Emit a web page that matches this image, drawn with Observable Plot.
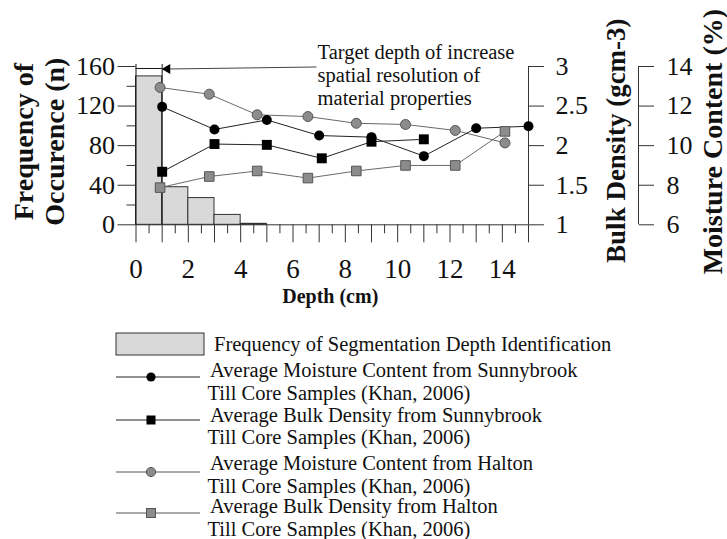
<!DOCTYPE html>
<html><head><meta charset="utf-8">
<script src="https://cdn.jsdelivr.net/npm/d3@7"></script>
<script src="https://cdn.jsdelivr.net/npm/@observablehq/plot@0.6"></script>
<style>
body{margin:0;background:#fff;font-family:"Liberation Serif","Times New Roman",serif;}
#chart svg,#legend svg{display:block}
</style></head><body><div id="chart"></div><div id="legend"></div>
<script>
// ---- data ----
const binStart = [0, 1, 2, 3, 4];
const binEnd = [1, 2, 3, 4, 5];
const frequency = [150, 38, 27, 10, 1];
const sunnyDepth = [1, 3, 5, 7, 9, 11, 13, 15];
const sunnyMoisture = [11.96, 10.82, 11.3, 10.51, 10.43, 9.47, 10.88, 10.98];
const sunnyBulkDepth = [1, 3, 5, 7.1, 9, 11];
const sunnyBulk = [1.67, 2.02, 2.01, 1.84, 2.05, 2.08];
const haltonDepth = [0.92, 2.8, 4.63, 6.57, 8.42, 10.3, 12.2, 14.1];
const haltonMoisture = [12.94, 12.6, 11.56, 11.47, 11.13, 11.07, 10.77, 10.14];
const haltonBulk = [1.47, 1.61, 1.68, 1.59, 1.68, 1.75, 1.75, 2.18];
const freqTicks = [0, 40, 80, 120, 160];
const freqMinor = [20, 60, 100, 140];
const bulkTicks = [1, 1.5, 2, 2.5, 3];
const moistTicks = [6, 8, 10, 12, 14];
const depthTicks = [0,1,2,3,4,5,6,7,8,9,10,11,12,13,14,15];
const depthMinor = [0.5,1.5,2.5,3.5,4.5,5.5,6.5,7.5,8.5,9.5,10.5,11.5,12.5,13.5,14.5];
const depthLabels = [0, 2, 4, 6, 8, 10, 12, 14];
const annotation = "Target depth of increase\nspatial resolution of\nmaterial properties";
const legendItems = [
  ["Frequency of Segmentation Depth Identification"],
  ["Average Moisture Content from Sunnybrook", "Till Core Samples (Khan, 2006)"],
  ["Average Bulk Density from Sunnybrook", "Till Core Samples (Khan, 2006)"],
  ["Average Moisture Content from Halton", "Till Core Samples (Khan, 2006)"],
  ["Average Bulk Density from Halton", "Till Core Samples (Khan, 2006)"]
];

// ---- map secondary axes into the frequency scale ----
const bulkToY = b => (b - 1) * 80;   // 1..3 -> 0..160
const moistToY = m => (m - 6) * 20;  // 6..14 -> 0..160

const bins = binStart.map((s, i) => ({x1: s, x2: binEnd[i], n: frequency[i]}));
const sunnyM = sunnyDepth.map((d, i) => ({x: d, y: moistToY(sunnyMoisture[i])}));
const sunnyB = sunnyBulkDepth.map((d, i) => ({x: d, y: bulkToY(sunnyBulk[i])}));
const haltonM = haltonDepth.map((d, i) => ({x: d, y: moistToY(haltonMoisture[i])}));
const haltonB = haltonDepth.map((d, i) => ({x: d, y: bulkToY(haltonBulk[i])}));

const bulkPos = bulkTicks.map(bulkToY);
const moistPos = moistTicks.map(moistToY);

const AX = "#333";
const GRAYFILL = "#8c8c8c", GRAYSTROKE = "#555";

const chart = Plot.plot({
  width: 727, height: 310,
  marginLeft: 135.5, marginRight: 199, marginTop: 66, marginBottom: 85.7,
  x: {domain: [0, 15]},
  y: {domain: [0, 160]},
  style: {fontFamily: "'Liberation Serif', 'Times New Roman', serif", color: "#111", background: "white", overflow: "visible"},
  marks: [
    Plot.rectY(bins, {x1: "x1", x2: "x2", y: "n", fill: "#d9d9d9", stroke: "#333", strokeWidth: 1}),
    // axis lines
    Plot.ruleY([0], {stroke: AX}),
    Plot.ruleX([15], {y1: 0, y2: 160, stroke: AX}),
    Plot.ruleX([15], {y1: 0, y2: 160, stroke: AX, dx: 110}),
    // target-depth bracket
    Plot.ruleX([0, 1], {y1: 0, y2: 162, stroke: "#111"}),
    Plot.ruleY([158], {x1: 0, x2: 1, stroke: "#111"}),
    Plot.link([{x1: 6.9, y1: 159.5, x2: 1.3, y2: 157.5}], {x1: "x1", y1: "y1", x2: "x2", y2: "y2", stroke: "#444"}),
    Plot.dot([{x: 1.2, y: 157.5}], {x: "x", y: "y", symbol: "triangle", r: 3.7, rotate: -90, fill: "#000", stroke: "none"}),
    Plot.text([annotation], {x: () => 6.94, y: () => 152, text: d => d, textAnchor: "start", lineAnchor: "middle", fontSize: 20.5, lineHeight: 1.12, fill: "#111"}),
    // series
    Plot.line(haltonM, {x: "x", y: "y", stroke: "#6a6a6a", strokeWidth: 1}),
    Plot.line(haltonB, {x: "x", y: "y", stroke: "#6a6a6a", strokeWidth: 1}),
    Plot.line(sunnyM, {x: "x", y: "y", stroke: "#222", strokeWidth: 1}),
    Plot.line(sunnyB, {x: "x", y: "y", stroke: "#222", strokeWidth: 1}),
    Plot.dot(haltonM, {x: "x", y: "y", r: 5, fill: GRAYFILL, stroke: GRAYSTROKE, strokeWidth: 1}),
    Plot.dot(haltonB, {x: "x", y: "y", r: 5.4, symbol: "square", fill: GRAYFILL, stroke: GRAYSTROKE, strokeWidth: 1}),
    Plot.dot(sunnyM, {x: "x", y: "y", r: 5, fill: "#000", stroke: "none"}),
    Plot.dot(sunnyB, {x: "x", y: "y", r: 5.6, symbol: "square", fill: "#000", stroke: "none"}),
    // axes
    Plot.axisY(freqTicks, {anchor: "left", tickSize: 18, tickPadding: 3, fontSize: 26, stroke: AX, label: null}),
    Plot.axisY(freqMinor, {anchor: "left", tickSize: 9, fill: "none", stroke: AX, label: null}),
    Plot.axisY(bulkPos, {anchor: "right", tickSize: 15, tickPadding: 12, fontSize: 26, stroke: AX, label: null,
      tickFormat: d => String(bulkTicks[bulkPos.indexOf(d)])}),
    Plot.axisY(moistPos, {anchor: "right", tickSize: 15, tickPadding: 13, fontSize: 26, stroke: AX, label: null, dx: 110,
      tickFormat: d => String(moistTicks[moistPos.indexOf(d)])}),
    Plot.axisX(depthTicks, {tickSize: 18, tickPadding: 16, fontSize: 27, stroke: AX, label: null,
      tickFormat: d => depthLabels.includes(d) ? String(d) : ""}),
    Plot.axisX(depthMinor, {tickSize: 9, fill: "none", stroke: AX, label: null}),
    // titles
    Plot.text(["Frequency of\nOccurence (n)"], {frameAnchor: "left", text: d => d, rotate: -90, textAnchor: "middle", lineAnchor: "middle", dx: -97, dy: -4, fontSize: 28, fontWeight: "bold", lineHeight: 1.1, fill: "#111"}),
    Plot.text(["Bulk Density (gcm-3)"], {frameAnchor: "right", text: d => d, rotate: -90, textAnchor: "middle", lineAnchor: "middle", dx: 88, dy: -5, fontSize: 27, fontWeight: "bold", fill: "#111"}),
    Plot.text(["Moisture Content (%)"], {frameAnchor: "right", text: d => d, rotate: -90, textAnchor: "middle", lineAnchor: "middle", dx: 185, dy: -4, fontSize: 28, fontWeight: "bold", fill: "#111"}),
    Plot.text(["Depth (cm)"], {frameAnchor: "bottom", text: d => d, textAnchor: "middle", lineAnchor: "middle", dx: -2, dy: 72, fontSize: 20, fontWeight: "bold", fill: "#111"})
  ]
});
document.getElementById("chart").appendChild(chart);

// ---- legend (below the plot) ----
const off = 310;
const lg = d3.select("#legend").append("svg").attr("width", 727).attr("height", 539 - off)
  .style("font-family", "'Liberation Serif', 'Times New Roman', serif").style("font-size", "20.5px");
lg.append("rect").attr("x", 116).attr("y", 333 - off).attr("width", 88).attr("height", 22)
  .attr("fill", "#d9d9d9").attr("stroke", "#333");
lg.append("text").attr("x", 214).attr("y", 351 - off).attr("fill", "#111").text(legendItems[0][0]);
const symY = [377, 420, 472, 513];
const baseY = [[376.5, 399.5], [421.5, 444], [469.5, 493], [513, 535.5]];
const styles = [
  {shape: "circle", fill: "#000", stroke: "none", line: "#222"},
  {shape: "square", fill: "#000", stroke: "none", line: "#222"},
  {shape: "circle", fill: GRAYFILL, stroke: GRAYSTROKE, line: "#555"},
  {shape: "square", fill: GRAYFILL, stroke: GRAYSTROKE, line: "#555"}
];
styles.forEach((s, i) => {
  const y = symY[i] - off;
  lg.append("line").attr("x1", 116).attr("x2", 200).attr("y1", y).attr("y2", y).attr("stroke", s.line);
  if (s.shape === "circle") lg.append("circle").attr("cx", 151).attr("cy", y).attr("r", 4.6).attr("fill", s.fill).attr("stroke", s.stroke);
  else lg.append("rect").attr("x", 146.5).attr("y", y - 4.5).attr("width", 9).attr("height", 9).attr("fill", s.fill).attr("stroke", s.stroke);
  lg.append("text").attr("x", 210).attr("y", baseY[i][0] - off).attr("fill", "#111").text(legendItems[i + 1][0]);
  lg.append("text").attr("x", 207.5).attr("y", baseY[i][1] - off).attr("fill", "#111").text(legendItems[i + 1][1]);
});
</script></body></html>
